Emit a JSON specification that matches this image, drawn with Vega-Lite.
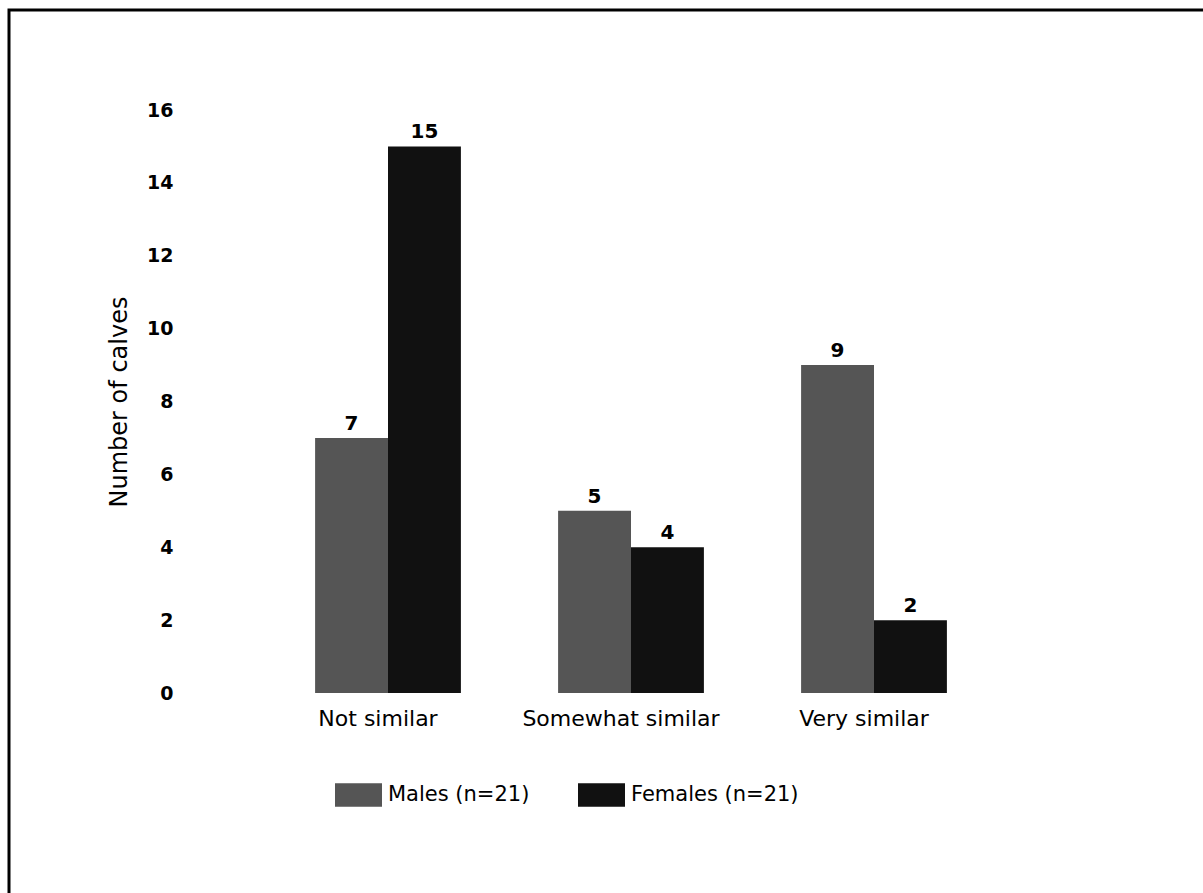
{
  "$schema": "https://vega.github.io/schema/vega-lite/v6.json",
  "width": 1198,
  "height": 887,
  "autosize": {"type": "none"},
  "padding": {"left": 9, "top": 10, "right": -4, "bottom": -4},
  "background": "white",
  "config": {
    "view": {"stroke": "black", "strokeWidth": 3},
    "font": "DejaVu Sans",
    "text": {"font": "DejaVu Sans"}
  },
  "data": {
    "values": [
      {"category": "Not similar", "sex": "Males (n=21)", "count": 7},
      {"category": "Not similar", "sex": "Females (n=21)", "count": 15},
      {"category": "Somewhat similar", "sex": "Males (n=21)", "count": 5},
      {"category": "Somewhat similar", "sex": "Females (n=21)", "count": 4},
      {"category": "Very similar", "sex": "Males (n=21)", "count": 9},
      {"category": "Very similar", "sex": "Females (n=21)", "count": 2}
    ]
  },
  "encoding": {
    "x": {
      "field": "category",
      "type": "nominal",
      "sort": ["Not similar", "Somewhat similar", "Very similar"],
      "scale": {"range": [257.5, 986.5], "paddingInner": 0.4, "paddingOuter": 0.2},
      "axis": {
        "title": null,
        "orient": "bottom",
        "offset": -204,
        "domain": false,
        "ticks": false,
        "grid": false,
        "labelAngle": 0,
        "labelPadding": 15,
        "labelOffset": -10,
        "labelLimit": 0,
        "labelFontSize": 22,
        "labelColor": "black",
        "labelFont": "DejaVu Sans"
      }
    },
    "xOffset": {
      "field": "sex",
      "type": "nominal",
      "sort": ["Males (n=21)", "Females (n=21)"]
    },
    "y": {
      "field": "count",
      "type": "quantitative",
      "scale": {"domain": [0, 16], "range": [683, 100], "nice": false, "zero": true},
      "axis": {
        "title": "Number of calves",
        "orient": "left",
        "offset": -169,
        "values": [0, 2, 4, 6, 8, 10, 12, 14, 16],
        "domain": false,
        "ticks": false,
        "grid": false,
        "labelPadding": 5,
        "labelFontSize": 19,
        "labelFontWeight": "bold",
        "labelColor": "black",
        "labelFont": "DejaVu Sans",
        "titleFontSize": 24,
        "titleFontWeight": "normal",
        "titleColor": "black",
        "titleFont": "DejaVu Sans",
        "titlePadding": 15
      }
    }
  },
  "layer": [
    {
      "mark": {"type": "bar", "opacity": 1},
      "encoding": {
        "color": {
          "field": "sex",
          "type": "nominal",
          "sort": ["Males (n=21)", "Females (n=21)"],
          "scale": {"domain": ["Males (n=21)", "Females (n=21)"], "range": ["#555555", "#111111"]},
          "legend": {
            "orient": "none",
            "legendX": 326,
            "legendY": 761,
            "direction": "horizontal",
            "title": null,
            "symbolType": "M-1,-0.5H1V0.5H-1Z",
            "symbolSize": 2209,
            "symbolStrokeWidth": 0,
            "symbolOpacity": 1,
            "labelFontSize": 21,
            "labelFont": "DejaVu Sans",
            "labelColor": "black",
            "labelOffset": 6,
            "labelLimit": 0,
            "columnPadding": 48
          }
        }
      }
    },
    {
      "mark": {"type": "text", "baseline": "alphabetic", "dy": -8, "fontSize": 20, "fontWeight": "bold", "color": "black"},
      "encoding": {"text": {"field": "count", "type": "quantitative"}}
    }
  ]
}
